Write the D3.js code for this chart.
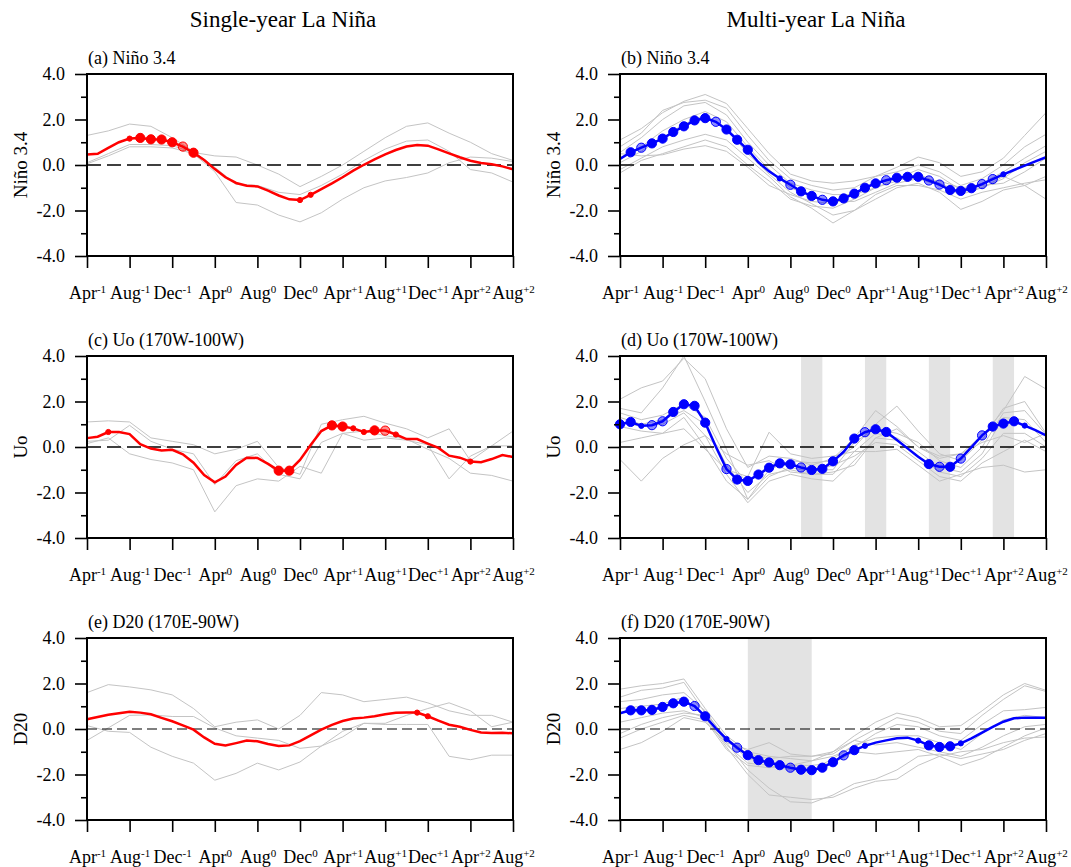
<!DOCTYPE html>
<html>
<head>
<meta charset="utf-8">
<script src="https://cdn.jsdelivr.net/npm/d3@7"></script>
<style>
  body { margin: 0; background: #fff; }
  svg { display: block; }
  svg text { font-family: "Liberation Serif", "Times New Roman", serif; }
</style>
</head>
<body>
<svg id="chart" width="1071" height="867"></svg>
<script>
// composite of La Nina events: single-year (left) vs multi-year (right)
const tickMonths = ["Apr", "Aug", "Dec", "Apr", "Aug", "Dec", "Apr", "Aug", "Dec", "Apr", "Aug"];
const tickYears = ["-1", "-1", "-1", "0", "0", "0", "+1", "+1", "+1", "+2", "+2"];
const yMajor = [-4, -2, 0, 2, 4];
const yMinor = [-3, -1, 1, 3];

// composite means, monthly Apr(-1) .. Aug(+2)
const ninoSingle = [0.46, 0.49, 0.75, 1.0, 1.16, 1.19, 1.13, 1.12, 1.0, 0.81, 0.54, 0.22, -0.18, -0.54, -0.79, -0.91, -0.94, -1.13, -1.34, -1.51, -1.54, -1.31, -1.06, -0.81, -0.54, -0.25, 0.01, 0.25, 0.47, 0.66, 0.81, 0.88, 0.85, 0.69, 0.51, 0.34, 0.19, 0.09, 0.03, -0.06, -0.19];
const ninoMulti = [0.27, 0.56, 0.76, 0.95, 1.16, 1.45, 1.70, 1.96, 2.06, 1.90, 1.56, 1.11, 0.67, 0.12, -0.28, -0.59, -0.87, -1.16, -1.36, -1.53, -1.60, -1.47, -1.26, -1.0, -0.81, -0.67, -0.56, -0.52, -0.52, -0.68, -0.86, -1.10, -1.14, -1.02, -0.84, -0.62, -0.41, -0.22, -0.03, 0.16, 0.34];
const uoSingle = [0.39, 0.45, 0.66, 0.66, 0.57, 0.12, -0.07, -0.15, -0.12, -0.32, -0.69, -1.23, -1.55, -1.3, -0.79, -0.47, -0.48, -0.74, -1.04, -1.04, -0.57, 0.09, 0.7, 0.95, 0.9, 0.82, 0.66, 0.73, 0.72, 0.55, 0.35, 0.35, 0.15, -0.04, -0.38, -0.47, -0.64, -0.67, -0.53, -0.35, -0.44];
const uoMulti = [1.0, 1.1, 0.93, 0.96, 1.13, 1.54, 1.88, 1.81, 1.07, 0.01, -0.97, -1.43, -1.49, -1.21, -0.91, -0.72, -0.76, -0.9, -1.01, -0.96, -0.63, -0.21, 0.37, 0.65, 0.78, 0.66, 0.31, -0.06, -0.43, -0.75, -0.87, -0.87, -0.51, -0.01, 0.51, 0.9, 1.03, 1.13, 0.94, 0.74, 0.51];
const d20Single = [0.43, 0.53, 0.63, 0.69, 0.76, 0.72, 0.65, 0.49, 0.34, 0.16, -0.03, -0.37, -0.65, -0.72, -0.62, -0.51, -0.54, -0.66, -0.75, -0.72, -0.53, -0.28, -0.03, 0.18, 0.35, 0.46, 0.5, 0.56, 0.65, 0.71, 0.72, 0.72, 0.56, 0.37, 0.19, 0.1, -0.04, -0.15, -0.18, -0.16, -0.19];
const d20Multi = [0.69, 0.82, 0.82, 0.84, 0.97, 1.13, 1.2, 1.01, 0.56, 0.03, -0.44, -0.82, -1.15, -1.37, -1.47, -1.59, -1.7, -1.79, -1.81, -1.7, -1.46, -1.16, -0.93, -0.74, -0.6, -0.5, -0.41, -0.38, -0.51, -0.72, -0.79, -0.76, -0.63, -0.41, -0.16, 0.09, 0.32, 0.47, 0.5, 0.5, 0.5];

// significance of each month: 0 none, 1 weak (small dot), 2 medium (open dot), 3 strong (big dot)
const sigNinoSingle = [0, 0, 0, 0, 1, 3, 3, 3, 3, 2, 3, 0, 0, 0, 0, 0, 0, 0, 0, 0, 1, 1, 0, 0, 0, 0, 0, 0, 0, 0, 0, 0, 0, 0, 0, 0, 0, 0, 0, 0, 0];
const sigNinoMulti = [0, 3, 2, 3, 3, 3, 3, 3, 3, 2, 3, 3, 3, 0, 0, 1, 2, 3, 3, 2, 3, 3, 3, 3, 3, 2, 3, 3, 3, 2, 2, 3, 3, 3, 2, 2, 1, 0, 0, 0, 0];
const sigUoSingle = [0, 0, 1, 0, 0, 0, 0, 0, 0, 0, 0, 0, 0, 0, 0, 0, 0, 0, 3, 3, 0, 0, 0, 3, 3, 1, 1, 3, 2, 1, 0, 0, 0, 0, 0, 0, 1, 0, 0, 0, 0];
const sigUoMulti = [3, 3, 1, 2, 2, 3, 3, 3, 3, 0, 2, 3, 3, 3, 3, 3, 3, 2, 3, 3, 3, 0, 3, 2, 3, 3, 0, 0, 0, 3, 2, 3, 2, 0, 2, 3, 3, 3, 1, 0, 0];
const sigD20Single = [0, 0, 0, 0, 0, 0, 0, 0, 0, 0, 0, 0, 0, 0, 0, 0, 0, 0, 0, 0, 0, 0, 0, 0, 0, 0, 0, 0, 0, 0, 0, 1, 1, 0, 0, 0, 0, 0, 0, 0, 0];
const sigD20Multi = [0, 3, 3, 3, 3, 3, 3, 2, 3, 0, 1, 2, 3, 3, 3, 3, 2, 3, 3, 3, 3, 2, 3, 1, 0, 0, 0, 0, 1, 3, 3, 3, 1, 0, 0, 0, 0, 0, 0, 0, 0];

// individual events, every second month
const memberMonths = d3.range(0, 41, 2);
const ninoSingleEvents = [
  [0.1, 0.5, 0.9, 0.9, 0.85, 0.55, 0.4, 0.35, 0.0, -0.4, -0.95, -0.5, 0.0, 0.6, 1.2, 1.7, 1.85, 1.4, 1.0, 0.5, 0.2],
  [1.3, 1.5, 1.8, 1.7, 1.2, 0.6, -0.1, -0.85, -0.9, -1.2, -1.3, -0.9, -0.4, 0.2, 0.7, 1.05, 1.1, 0.6, -0.2, -0.35, -0.75],
  [0.05, 0.4, 0.8, 0.8, 0.75, 0.5, -0.3, -1.65, -1.76, -2.2, -2.5, -2.1, -1.5, -1.0, -0.7, -0.55, -0.35, 0.1, 0.35, 0.3, 0.15]
];
const ninoMultiEvents = [
  [1.1, 1.6, 2.3, 2.8, 3.1, 2.7, 1.6, 0.5, -0.4, -0.7, -0.8, -0.7, -0.5, -0.1, 0.35, 0.1, -0.5, -0.3, 0.3, 1.3, 2.3],
  [0.8, 1.4, 2.4, 2.75, 2.85, 2.5, 1.3, 0.2, -0.6, -0.9, -1.1, -1.0, -0.5, -0.3, 0.0, -0.3, -0.9, -0.6, 0.0, 0.8, 1.35],
  [0.55, 1.2, 2.0, 2.6, 2.75, 2.2, 1.0, 0.0, -0.8, -1.1, -1.3, -1.3, -1.0, -0.6, -0.2, -0.5, -1.1, -0.8, -0.3, 0.3, 0.85],
  [0.3, 0.8, 1.5, 2.0, 2.35, 1.9, 0.8, -0.2, -1.0, -1.4, -1.6, -1.6, -1.2, -0.8, -0.6, -0.9, -1.3, -1.0, -0.6, 0.1, 0.6],
  [0.1, 0.6, 1.2, 1.8, 2.2, 1.6, 0.5, -0.4, -1.2, -1.7, -2.2, -2.0, -1.5, -1.0, -0.8, -1.2, -1.95, -1.6, -1.1, -0.9, -0.5],
  [-0.2, 0.3, 0.8, 1.1, 1.35, 1.1, 0.3, -0.5, -1.4, -1.9, -2.55, -2.0, -1.3, -0.9, -0.9, -1.1, -1.5, -1.2, -1.0, -0.8, -0.65],
  [-0.35, 0.2, 0.5, 0.8, 1.1, 0.8, 0.0, -0.7, -1.5, -1.8, -1.9, -1.5, -1.0, -0.7, -0.4, -0.8, -1.2, -1.0, -0.5, -0.9, -1.5],
  [0.5, 0.4, 0.45, 0.7, 0.85, 0.6, -0.1, -0.9, -1.3, -1.6, -1.7, -1.3, -0.8, -0.6, -0.6, -0.7, -1.0, -0.9, -0.8, -0.3, 0.3]
];
const uoSingleEvents = [
  [1.1, 1.15, 1.1, 0.4, 0.25, 0.1, -0.3, -0.1, 0.25, -0.9, -1.2, 1.0, 1.2, 1.35, 1.05, 0.8, 0.4, 0.8, -0.6, 0.05, 0.05],
  [0.25, 0.3, 0.95, 0.25, -0.1, -0.3, -1.65, -0.6, -0.3, -1.2, -1.4, 0.2, 0.6, 0.3, 0.4, 0.3, 0.1, -1.4, -0.4, 0.05, 0.7],
  [0.15, 0.4, -0.3, -0.55, -0.7, -1.0, -2.85, -1.7, -1.4, -1.5, -0.85, -1.15, 0.6, 0.7, 0.5, 0.35, -0.1, -0.5, -1.15, -1.25, -1.5]
];
const uoMultiEvents = [
  [2.1, 2.6, 2.9, 3.9, 3.0, 0.8, -0.9, -0.4, -0.5, -0.8, -0.5, 0.4, 1.6, 0.9, 0.0, -0.4, -0.3, 0.5, 1.6, 3.1, 2.55],
  [1.7, 1.5, 2.6, 4.0, 2.0, -0.1, -2.3, -1.0, -0.6, -0.7, -0.6, 0.0, 1.0, 1.8, 0.7, -0.3, -0.6, 0.3, 1.7, 2.0, 0.6],
  [1.5, 1.2, 1.4, 1.9, 1.3, -0.5, -1.6, -0.8, -0.8, -1.0, -1.0, 0.2, 0.8, 0.6, 0.2, -0.6, -0.9, 0.0, 1.5, 1.6, 0.55],
  [1.3, 1.0, 1.2, 1.6, 1.0, -0.8, -2.0, -1.2, -1.0, -1.2, -1.2, -0.2, 0.6, 0.4, -0.2, -0.9, -1.1, -0.3, 1.3, 1.2, 0.2],
  [1.1, 0.9, 1.0, 1.5, 0.5, -1.2, -2.45, -1.5, -1.2, -1.4, -1.5, -0.6, 0.4, 0.3, -0.4, -1.1, -1.3, -0.5, 0.6, 0.6, 0.0],
  [0.9, 0.7, 0.6, 1.3, 0.0, -1.5, -2.3, -1.3, -0.9, -1.1, -0.8, -0.4, 0.2, 0.1, -0.6, -1.3, -1.5, -0.7, -0.2, 0.3, -0.2],
  [0.2, 0.4, 0.6, 0.8, -0.1, -1.0, -1.3, 0.65, -0.3, -0.5, -0.4, -0.2, -0.2, -0.1, -0.8, -1.5, -1.2, -0.9, -0.8, -1.1, -1.0],
  [-0.55, -1.5, -0.5, 0.1, 0.5, -0.3, -0.8, -0.6, -1.1, -1.2, -1.1, -0.8, 0.4, 0.8, 0.0, -0.5, -0.3, 0.2, 0.5, 0.2, 0.6]
];
const d20SingleEvents = [
  [1.6, 1.95, 1.85, 1.72, 1.5, 0.9, 0.1, 0.3, 0.4, 0.0, 0.6, 1.6, 1.5, 1.2, 1.3, 1.4, 1.15, 0.8, 0.6, 0.6, 0.3],
  [-0.5, 0.05, 0.6, 0.62, 0.55, 0.55, 0.05, -0.3, -0.4, -0.5, -0.85, -0.75, -0.1, 0.25, 0.2, 0.2, 0.2, -1.2, -1.35, -1.15, -1.15],
  [0.15, -0.1, -0.15, -0.8, -1.2, -1.5, -2.25, -1.95, -1.5, -1.8, -1.45, -0.75, -0.35, 0.25, 0.25, 0.6, 0.9, 1.15, 0.8, 0.1, 0.3]
];
const d20MultiEvents = [
  [1.75, 1.9, 2.0, 2.2, 0.9, -0.3, -1.0, -1.2, -1.3, -1.4, -1.0, -0.3, 0.3, 0.7, 0.5, 0.1, 0.15, 0.8, 1.5, 2.0, 1.7],
  [1.4, 1.7, 1.8, 2.05, 0.7, -0.4, -1.1, -1.3, -1.2, -1.2, -1.1, -0.5, 0.0, 0.5, 0.3, -0.1, -0.2, 0.6, 1.3, 1.9, 1.65],
  [1.2, 1.3, 1.5, 1.6, 0.8, -0.5, -1.3, -1.5, -1.6, -1.4, -1.2, -0.8, -0.2, 0.2, 0.1, -0.3, -0.5, 0.2, 0.8, 0.85, 0.95],
  [0.9, 1.0, 1.1, 1.4, 0.5, -0.7, -1.5, -1.6, -1.8, -1.8, -1.3, -0.7, -0.4, -0.3, -0.3, -0.6, -0.9, -0.2, 0.4, 0.6, 0.5],
  [-0.2, 0.2, 0.5, 0.7, 0.6, -0.6, -0.9, -0.6, -1.1, -1.2, -1.0, -0.5, -0.7, -0.6, -0.8, -1.0, -1.2, -0.8, -0.3, 0.1, 0.2],
  [-0.4, 0.0, 0.3, 0.6, 0.4, -0.9, -1.6, -1.7, -1.6, -1.6, -1.5, -1.0, -1.1, -1.0, -0.9, -1.2, -1.6, -1.3, -0.8, -0.3, 0.05],
  [-0.9, -0.6, -0.1, 0.5, 0.3, -0.6, -1.8, -2.6, -3.2, -3.25, -2.9, -2.4, -2.2, -1.8, -1.2, -1.1, -1.3, -1.1, -0.9, -0.5, -0.2],
  [0.3, 0.5, 0.7, 0.8, 0.5, -0.8, -2.0, -2.9, -3.0, -3.1, -3.0, -2.6, -2.3, -2.2, -1.6, -1.2, -1.0, -0.9, -0.6, -0.4, -0.35]
];

// shaded month spans
const uoMultiShade = [[17, 19], [23, 25], [29, 31], [35, 37]];
const d20MultiShade = [[12, 18]];

const panels = [
  { tag: "(a) Niño 3.4", ylab: "Niño 3.4", mean: ninoSingle, sig: sigNinoSingle, events: ninoSingleEvents, shade: [], col: 0, row: 0 },
  { tag: "(b) Niño 3.4", ylab: "Niño 3.4", mean: ninoMulti, sig: sigNinoMulti, events: ninoMultiEvents, shade: [], col: 1, row: 0 },
  { tag: "(c) Uo (170W-100W)", ylab: "Uo", mean: uoSingle, sig: sigUoSingle, events: uoSingleEvents, shade: [], col: 0, row: 1 },
  { tag: "(d) Uo (170W-100W)", ylab: "Uo", mean: uoMulti, sig: sigUoMulti, events: uoMultiEvents, shade: uoMultiShade, col: 1, row: 1 },
  { tag: "(e) D20 (170E-90W)", ylab: "D20", mean: d20Single, sig: sigD20Single, events: d20SingleEvents, shade: [], col: 0, row: 2 },
  { tag: "(f) D20 (170E-90W)", ylab: "D20", mean: d20Multi, sig: sigD20Multi, events: d20MultiEvents, shade: d20MultiShade, col: 1, row: 2 }
];

const colX = [87, 620], rowY = [74, 356, 638];
const W = 426, H = 182;
const FONT = "Liberation Serif, Times New Roman, serif";
const colors = ["#ff0000", "#0000ff"];

const svg = d3.select("#chart");
svg.append("rect").attr("width", 1071).attr("height", 867).attr("fill", "#fff");

svg.selectAll(".coltitle")
  .data(["Single-year La Niña", "Multi-year La Niña"])
  .enter().append("text")
  .attr("x", (d, i) => colX[i] + W / 2 - 17)
  .attr("y", 27)
  .attr("text-anchor", "middle")
  .style("font-size", "23px")
  .text(d => d);

const x = d3.scaleLinear().domain([0, 40]).range([0, W]);
const y = d3.scaleLinear().domain([-4, 4]).range([H, 0]);

panels.forEach(function (p) {
  const color = colors[p.col];
  const g = svg.append("g")
    .attr("transform", `translate(${colX[p.col]},${rowY[p.row]})`);

  g.selectAll(".shade")
    .data(p.shade)
    .enter().append("rect")
    .attr("x", d => x(d[0]))
    .attr("width", d => x(d[1]) - x(d[0]))
    .attr("y", 0)
    .attr("height", H)
    .attr("fill", "#e3e3e3");

  const eventLine = d3.line()
    .x((d, i) => x(memberMonths[i]))
    .y(d => y(d));
  g.selectAll(".event")
    .data(p.events)
    .enter().append("path")
    .attr("fill", "none")
    .attr("stroke", "#c4c4c4")
    .attr("stroke-width", 1)
    .attr("d", eventLine);

  g.append("line")
    .attr("x1", 0).attr("x2", W)
    .attr("y1", y(0)).attr("y2", y(0))
    .attr("stroke", "#000")
    .attr("stroke-width", p.row == 2 ? 1.2 : 1.6)
    .attr("stroke-dasharray", p.row == 2 ? "10,5" : "14,6");

  const meanLine = d3.line()
    .x((d, i) => x(i))
    .y(d => y(d));
  g.append("path")
    .datum(p.mean)
    .attr("fill", "none")
    .attr("stroke", color)
    .attr("stroke-width", 2.5)
    .attr("d", meanLine);

  const dots = p.mean.map((v, i) => ({ i: i, v: v, s: p.sig[i] })).filter(d => d.s > 0);
  g.selectAll(".dot")
    .data(dots)
    .enter().append("circle")
    .attr("cx", d => x(d.i))
    .attr("cy", d => y(d.v))
    .attr("r", d => d.s == 1 ? 2.6 : 4.6)
    .attr("fill", color)
    .attr("fill-opacity", d => d.s == 2 ? 0.45 : 1)
    .attr("stroke", color)
    .attr("stroke-width", 1);

  // axes
  const gx = g.append("g")
    .attr("transform", `translate(0,${H})`)
    .call(d3.axisBottom(x).tickValues(d3.range(0, 41, 4)).tickSize(12).tickSizeOuter(0).tickPadding(18));
  gx.selectAll(".tick text").each(function (d, k) {
    const t = d3.select(this).text(null);
    t.append("tspan").text(tickMonths[k]);
    t.append("tspan").attr("dy", -6).style("font-size", "11px").text(tickYears[k]);
  });

  const gy = g.append("g")
    .call(d3.axisLeft(y).tickValues(yMajor).tickSize(12).tickSizeOuter(0).tickPadding(10).tickFormat(d => d.toFixed(1)));
  g.append("g")
    .call(d3.axisLeft(y).tickValues(yMinor).tickSize(6).tickSizeOuter(0).tickFormat(""))
    .select(".domain").remove();

  g.selectAll("g").attr("font-family", FONT).attr("font-size", 18);
  g.selectAll(".tick line").attr("stroke-width", 1.6);
  g.selectAll(".tick text").attr("fill", "#000");

  g.append("rect")
    .attr("width", W).attr("height", H)
    .attr("fill", "none")
    .attr("stroke", "#000")
    .attr("stroke-width", 2);

  g.append("text")
    .attr("x", 1)
    .attr("y", -10)
    .style("font-size", "18px")
    .text(p.tag);

  g.append("text")
    .attr("transform", `translate(-60,${H / 2}) rotate(-90)`)
    .attr("text-anchor", "middle")
    .style("font-size", "19px")
    .text(p.ylab);
});
</script>
</body>
</html>
